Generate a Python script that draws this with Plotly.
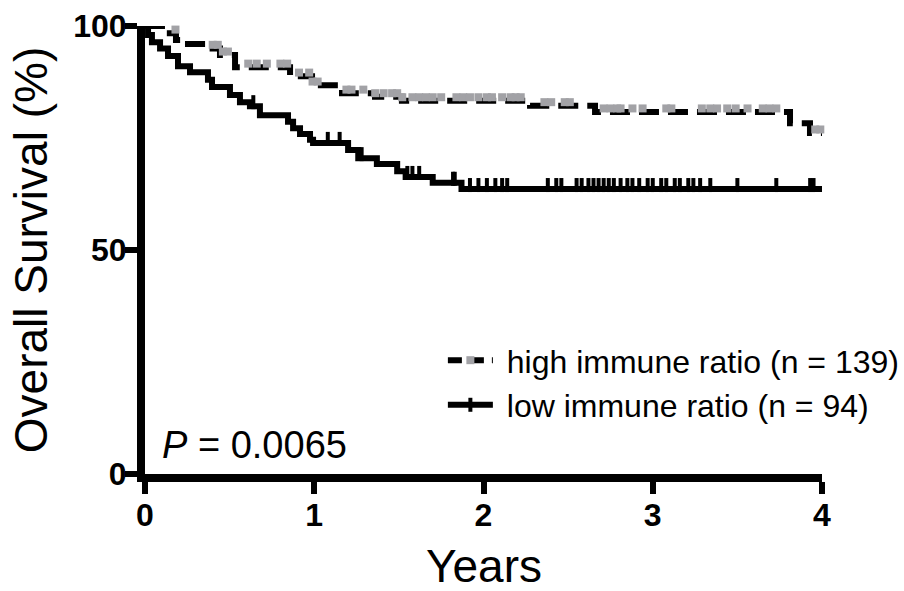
import plotly.graph_objects as go
import numpy as np

# ---------------- data ----------------
high_t = [0, 0.118, 0.183, 0.254, 0.366, 0.443, 0.532, 0.857, 0.987, 1.164, 1.359, 1.518,
          2.275, 2.659, 3.811, 3.929, 4.0]
high_s = [100, 98.4, 96.9, 96.0, 95.0, 93.5, 90.8, 88.8, 86.8, 85.0, 84.2, 83.3,
          82.2, 80.8, 78.3, 76.1, 76.1]

low_t = [0, 0.018, 0.041, 0.089, 0.136, 0.195, 0.266, 0.372, 0.396, 0.502, 0.561, 0.620,
         0.679, 0.845, 0.875, 0.916, 0.975, 0.993, 1.2, 1.26, 1.37, 1.49, 1.54, 1.70, 1.87, 4.0]
low_s = [100, 98, 96.4, 95, 93.3, 91, 89.7, 88, 86.4, 84.6, 83, 82.1,
         80.1, 78.6, 77.2, 75.9, 74.6, 73.9, 72.3, 70.5, 69.2, 67.6, 66.3, 65, 63.6, 63.6]

high_censor = [0.18, 0.40, 0.43, 0.46, 0.49, 0.61, 0.66, 0.72, 0.80, 0.84, 0.91, 0.97, 0.99,
               1.02, 1.19, 1.22, 1.29, 1.36, 1.41, 1.46, 1.49, 1.52, 1.58, 1.62, 1.66, 1.70,
               1.75, 1.84, 1.88, 1.92, 1.97, 2.02, 2.05, 2.11, 2.16, 2.19, 2.22, 2.36, 2.40,
               2.48, 2.51, 2.71, 2.75, 2.79, 2.81, 2.88, 2.94, 3.08, 3.11, 3.29, 3.34, 3.38,
               3.44, 3.49, 3.56, 3.65, 3.69, 3.73, 3.96, 3.99]
low_censor = [0.64, 1.08, 1.15, 1.28, 1.55, 1.58, 1.62, 1.82, 1.83, 1.92, 1.97, 2.02, 2.07,
              2.11, 2.14, 2.38, 2.43, 2.46, 2.55, 2.58, 2.62, 2.65, 2.68, 2.71, 2.74, 2.77,
              2.81, 2.85, 2.88, 2.92, 2.97, 3.00, 3.05, 3.08, 3.13, 3.16, 3.21, 3.24, 3.28,
              3.34, 3.50, 3.73, 3.93, 3.95]

x_ticks = [0, 1, 2, 3, 4]
y_ticks = [0, 50, 100]
labels = ["high immune ratio (n = 139)", "low immune ratio (n = 94)"]
x_title = "Years"
y_title = "Overall Survival (%)"
p_text = "<i>P</i> = 0.0065"

GRAY = "#a2a2a6"
FONT = "Liberation Sans, Arial, sans-serif"
GAP = "\u00a0"


def step_at(ts, ss, t):
    idx = np.searchsorted(np.array(ts), t, side="right") - 1
    return ss[max(idx, 0)]


high_cy = [step_at(high_t, high_s, t) + 0.8 for t in high_censor]
low_cy = [step_at(low_t, low_s, t) + 0.9 for t in low_censor]

fig = go.Figure()

# high curve: dashed black line + gray censor squares
fig.add_trace(go.Scatter(x=high_t, y=high_s, mode="lines", line_shape="hv",
                         line=dict(color="black", width=6, dash="20px,9px"),
                         showlegend=False, cliponaxis=False, hoverinfo="skip"))
fig.add_trace(go.Scatter(x=high_censor, y=high_cy, mode="markers",
                         marker=dict(symbol="square", size=8, color=GRAY),
                         showlegend=False, cliponaxis=False, hoverinfo="skip"))
# low curve: solid black line + black tick censors
fig.add_trace(go.Scatter(x=low_t, y=low_s, mode="lines", line_shape="hv",
                         line=dict(color="black", width=6),
                         showlegend=False, cliponaxis=False, hoverinfo="skip"))
fig.add_trace(go.Scatter(x=low_censor, y=low_cy, mode="markers",
                         marker=dict(symbol="line-ns", size=10,
                                     line=dict(color="black", width=4)),
                         showlegend=False, cliponaxis=False, hoverinfo="skip"))

# legend entries
fig.add_trace(go.Scatter(x=[None], y=[None], mode="lines+markers", name=GAP + labels[0],
                         line=dict(color="black", width=6, dash="14px,8px"),
                         marker=dict(symbol="square", size=8, color=GRAY)))
fig.add_trace(go.Scatter(x=[None], y=[None], mode="lines+markers", name=GAP + labels[1],
                         line=dict(color="black", width=6),
                         marker=dict(symbol="line-ns", size=10,
                                     line=dict(color="black", width=4))))

fig.add_annotation(x=0.022, y=0.065, xref="paper", yref="paper", text=p_text,
                   showarrow=False, xanchor="left", yanchor="middle",
                   font=dict(family=FONT, size=38, color="black"))
fig.add_annotation(x=0.5, y=-0.205, xref="paper", yref="paper", text=x_title,
                   showarrow=False, xanchor="center", yanchor="middle",
                   font=dict(family=FONT, size=46, color="black"))

axis_common = dict(showline=True, linewidth=8, linecolor="black", ticks="outside",
                   ticklen=12, tickwidth=6, tickcolor="black", showgrid=False,
                   zeroline=False, automargin=False,
                   tickfont=dict(family=FONT, size=32, color="black", weight="bold"))

fig.update_layout(
    width=904, height=591,
    margin=dict(l=145, r=82, t=26, b=117, autoexpand=False),
    paper_bgcolor="white", plot_bgcolor="white",
    font=dict(family=FONT, color="black"),
    xaxis=dict(range=[0, 4], tickvals=x_ticks, ticktext=[str(v) for v in x_ticks],
               ticklabelstandoff=-6, **axis_common),
    yaxis=dict(range=[0, 100], tickvals=y_ticks, ticktext=[str(v) for v in y_ticks],
               ticklabelstandoff=-8,
               title=dict(text=y_title, font=dict(family=FONT, size=46), standoff=14),
               **axis_common),
    legend=dict(x=0.44, y=0.315, xanchor="left", yanchor="top",
                font=dict(family=FONT, size=32, color="black"),
                bgcolor="rgba(0,0,0,0)", itemwidth=45, tracegroupgap=0),
)

fig.write_html("out.html")
